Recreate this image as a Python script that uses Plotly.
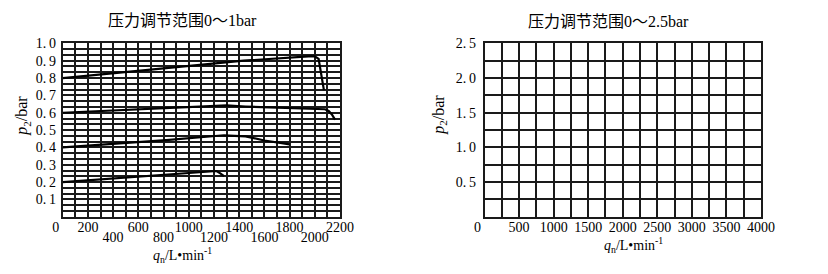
import plotly.graph_objects as go

# ---- data ----
c1_x = [0, 1436, 1950, 2000, 2030, 2045, 2060, 2072]
c1_y = [0.80, 0.90, 0.925, 0.925, 0.91, 0.85, 0.78, 0.73]
c2_x = [0, 1300, 1450, 2000, 2080, 2110, 2135, 2160]
c2_y = [0.60, 0.642, 0.636, 0.625, 0.62, 0.61, 0.59, 0.56]
c3_x = [0, 820, 1280, 1450, 1600, 1800]
c3_y = [0.40, 0.442, 0.470, 0.464, 0.44, 0.418]
c4_x = [0, 744, 1200, 1220, 1250, 1280]
c4_y = [0.20, 0.239, 0.262, 0.264, 0.25, 0.235]

left_xticks_row1 = [0, 200, 600, 1000, 1400, 1800, 2200]
left_xticks_row2 = [400, 800, 1200, 1600, 2000]
left_yticks = [0.1, 0.2, 0.3, 0.4, 0.5, 0.6, 0.7, 0.8, 0.9, 1.0]
left_ytext = ["0.\u20091", "0.\u20092", "0.\u20093", "0.\u20094", "0.\u20095",
              "0.\u20096", "0.\u20097", "0.\u20098", "0.\u20099", "1.\u20090"]
right_xticks = [0, 500, 1000, 1500, 2000, 2500, 3000, 3500, 4000]
right_yticks = [0.5, 1.0, 1.5, 2.0, 2.5]
right_ytext = ["0.\u20095", "1.\u20090", "1.\u20095", "2.\u20090", "2.\u20095"]

title_left = "压力调节范围0～1bar"
title_right = "压力调节范围0～2.5bar"
ytitle = "<i>p</i><sub>2</sub>/bar"
xtitle = "<i>q</i><sub>n</sub>/L•min<sup>-1</sup>"

FONT = "Liberation Serif, Noto Sans CJK SC, serif"
GRID = "#1a1a1a"


def xlabels(vals):
    # the "0" label sits a little left of the axis corner, as in the original
    return [("0\u2003" if v == 0 else str(v)) for v in vals]


fig = go.Figure()
for xs, ys in [(c1_x, c1_y), (c2_x, c2_y), (c3_x, c3_y), (c4_x, c4_y)]:
    fig.add_trace(go.Scatter(x=xs, y=ys, mode="lines", xaxis="x", yaxis="y",
                             line=dict(color="black", width=2.2), showlegend=False,
                             hoverinfo="skip"))
fig.add_trace(go.Scatter(x=[0], y=[0], mode="markers", xaxis="x2", yaxis="y2",
                         marker=dict(opacity=0), showlegend=False, hoverinfo="skip"))
fig.add_trace(go.Scatter(x=[0], y=[0], mode="markers", xaxis="x3", yaxis="y",
                         marker=dict(opacity=0), showlegend=False, hoverinfo="skip"))

H = 274
W = 828
ydom = [(H - 215.3) / H, (H - 37.3) / H]
TF = dict(family=FONT, size=14, color="black")

axis_common = dict(showline=True, mirror=True, linecolor=GRID, linewidth=1.6,
                   showgrid=True, gridcolor=GRID, gridwidth=1.6, zeroline=False,
                   ticks="", tickangle=0, tickfont=TF)

fig.update_layout(
    width=W, height=H, margin=dict(l=0, r=0, t=0, b=0),
    plot_bgcolor="white", paper_bgcolor="white",
    font=dict(family=FONT, color="black"),
    xaxis=dict(domain=[53.3 / W, 339.3 / W], range=[0, 2200], anchor="y",
               tickmode="array", tickvals=left_xticks_row1,
               ticktext=xlabels(left_xticks_row1),
               minor=dict(dtick=100, tick0=0, showgrid=True, gridcolor=GRID, gridwidth=1.6),
               ticklabelstandoff=-3, **axis_common),
    xaxis3=dict(overlaying="x", anchor="y", side="bottom", range=[0, 2200],
                showgrid=False, showline=False, zeroline=False, ticks="", tickangle=0,
                tickmode="array", tickvals=left_xticks_row2,
                ticktext=xlabels(left_xticks_row2),
                tickfont=TF, ticklabelstandoff=10),
    yaxis=dict(domain=ydom, range=[0, 1.0], anchor="x",
               tickmode="array", tickvals=left_yticks, ticktext=left_ytext,
               minor=dict(dtick=1 / 30, tick0=0, showgrid=True, gridcolor=GRID, gridwidth=1.6),
               ticklabelstandoff=2, **axis_common),
    xaxis2=dict(domain=[488.3 / W, 773.3 / W], range=[0, 4000], anchor="y2",
                tickmode="array", tickvals=right_xticks,
                ticktext=xlabels(right_xticks),
                minor=dict(dtick=250, tick0=0, showgrid=True, gridcolor=GRID, gridwidth=1.6),
                ticklabelstandoff=-3, **axis_common),
    yaxis2=dict(domain=ydom, range=[0, 2.5], anchor="x2",
                tickmode="array", tickvals=right_yticks, ticktext=right_ytext,
                minor=dict(dtick=0.25, tick0=0, showgrid=True, gridcolor=GRID, gridwidth=1.6),
                ticklabelstandoff=4, **axis_common),
)

ann = []
ann.append(dict(text=title_left, x=177 / W, y=1 - 14 / H, xref="paper", yref="paper",
                showarrow=False, font=dict(family=FONT, size=16), xanchor="center", yanchor="middle"))
ann.append(dict(text=title_right, x=616 / W, y=1 - 15 / H, xref="paper", yref="paper",
                showarrow=False, font=dict(family=FONT, size=16), xanchor="center", yanchor="middle"))
ann.append(dict(text=xtitle, x=177 / W, y=1 - 255 / H, xref="paper", yref="paper",
                showarrow=False, font=dict(family=FONT, size=14), xanchor="center", yanchor="middle"))
ann.append(dict(text=xtitle, x=642 / W, y=1 - 244 / H, xref="paper", yref="paper",
                showarrow=False, font=dict(family=FONT, size=14), xanchor="center", yanchor="middle"))
ann.append(dict(text=ytitle, x=12 / W, y=1 - 112 / H, xref="paper", yref="paper", textangle=-90,
                showarrow=False, font=dict(family=FONT, size=16), xanchor="center", yanchor="middle"))
ann.append(dict(text=ytitle, x=441 / W, y=1 - 111 / H, xref="paper", yref="paper", textangle=-90,
                showarrow=False, font=dict(family=FONT, size=16), xanchor="center", yanchor="middle"))
fig.update_layout(annotations=ann)

fig.write_html("out.html")
